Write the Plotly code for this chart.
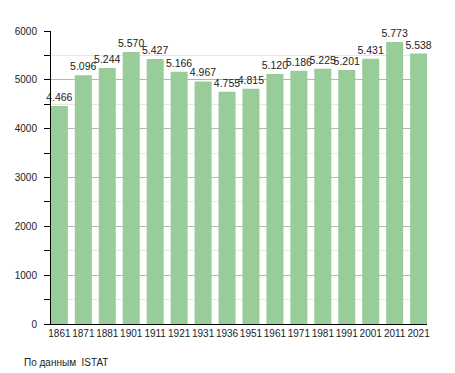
import plotly.graph_objects as go

years = ["1861", "1871", "1881", "1901", "1911", "1921", "1931", "1936",
         "1951", "1961", "1971", "1981", "1991", "2001", "2011", "2021"]
population = [4466, 5096, 5244, 5570, 5427, 5166, 4967, 4755,
              4815, 5120, 5186, 5225, 5201, 5431, 5773, 5538]
y_ticks = [0, 1000, 2000, 3000, 4000, 5000, 6000]
source_note = "По данным  ISTAT"

FONT = "Liberation Sans, Arial, sans-serif"

fig = go.Figure(go.Bar(
    x=years,
    y=population,
    marker=dict(color="rgb(152,204,152)", line=dict(width=0)),
    texttemplate="%{y:,}",
    textposition="outside",
    constraintext="none",
    textfont=dict(family=FONT, size=10.5, color="#222"),
    cliponaxis=False,
    hoverinfo="skip",
))

# the page adds an 8px body margin, so the figure is drawn 8px smaller
OFF = 8
W, H = 455 - OFF, 373 - OFF
L, T = 51 - OFF, 31 - OFF
R = 28
B = 49
pw = W - L - R
ph = H - T - B

fig.update_layout(
    width=W, height=H,
    margin=dict(l=L, r=R, t=T, b=B, pad=0, autoexpand=False),
    paper_bgcolor="white",
    plot_bgcolor="white",
    separators=",.",
    bargap=0.29,
    showlegend=False,
    font=dict(family=FONT, size=10, color="#222"),
    xaxis=dict(
        type="category",
        range=[-0.35, 15.35],
        automargin=False,
        tickangle=0,
        showline=True, linecolor="black", linewidth=1,
        ticks="", showgrid=False,
        tickfont=dict(family=FONT, size=10, color="#222"),
        fixedrange=True,
    ),
    yaxis=dict(
        range=[0, 6000],
        automargin=False,
        tickvals=y_ticks,
        showline=True, linecolor="black", linewidth=1,
        ticks="outside", ticklen=6, tickcolor="black",
        ticklabelstandoff=5,
        showgrid=True, gridcolor="#b4b4b4", gridwidth=1,
        zeroline=False,
        tickfont=dict(family=FONT, size=10, color="#222"),
        minor=dict(dtick=500, ticks="outside", ticklen=6, tickcolor="black",
                   showgrid=True, gridcolor="#e6e6e6", gridwidth=1),
        fixedrange=True,
    ),
    annotations=[dict(
        text=source_note, showarrow=False,
        xref="paper", yref="paper",
        x=(22 - 51) / pw, y=(324 - 362) / ph,
        xanchor="left", yanchor="middle",
        font=dict(family=FONT, size=10, color="#222"),
    )],
)

fig.write_html("out.html")
